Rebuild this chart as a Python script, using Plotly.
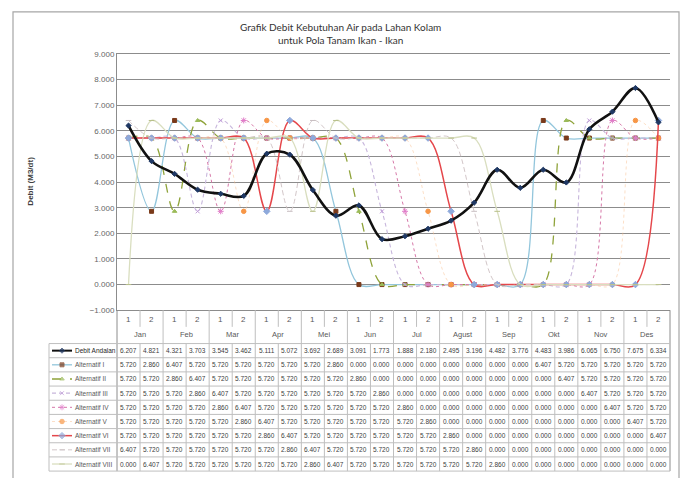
import plotly.graph_objects as go

# ---- data -------------------------------------------------------------
periods = ["1", "2"] * 12
months = ["Jan", "Feb", "Mar", "Apr", "Mei", "Jun", "Jul", "Agust", "Sep", "Okt", "Nov", "Des"]

debit_andalan = [6.207, 4.821, 4.321, 3.703, 3.545, 3.462, 5.111, 5.072, 3.692, 2.689, 3.091, 1.773,
                 1.888, 2.180, 2.495, 3.196, 4.482, 3.776, 4.483, 3.986, 6.065, 6.750, 7.675, 6.334]
alt_1 = [5.720, 2.860, 6.407, 5.720, 5.720, 5.720, 5.720, 5.720, 5.720, 2.860, 0.000, 0.000,
         0.000, 0.000, 0.000, 0.000, 0.000, 0.000, 6.407, 5.720, 5.720, 5.720, 5.720, 5.720]
alt_2 = [5.720, 5.720, 2.860, 6.407, 5.720, 5.720, 5.720, 5.720, 5.720, 5.720, 2.860, 0.000,
         0.000, 0.000, 0.000, 0.000, 0.000, 0.000, 0.000, 6.407, 5.720, 5.720, 5.720, 5.720]
alt_3 = [5.720, 5.720, 5.720, 2.860, 6.407, 5.720, 5.720, 5.720, 5.720, 5.720, 5.720, 2.860,
         0.000, 0.000, 0.000, 0.000, 0.000, 0.000, 0.000, 0.000, 6.407, 5.720, 5.720, 5.720]
alt_4 = [5.720, 5.720, 5.720, 5.720, 2.860, 6.407, 5.720, 5.720, 5.720, 5.720, 5.720, 5.720,
         2.860, 0.000, 0.000, 0.000, 0.000, 0.000, 0.000, 0.000, 0.000, 6.407, 5.720, 5.720]
alt_5 = [5.720, 5.720, 5.720, 5.720, 5.720, 2.860, 6.407, 5.720, 5.720, 5.720, 5.720, 5.720,
         5.720, 2.860, 0.000, 0.000, 0.000, 0.000, 0.000, 0.000, 0.000, 0.000, 6.407, 5.720]
alt_6 = [5.720, 5.720, 5.720, 5.720, 5.720, 5.720, 2.860, 6.407, 5.720, 5.720, 5.720, 5.720,
         5.720, 5.720, 2.860, 0.000, 0.000, 0.000, 0.000, 0.000, 0.000, 0.000, 0.000, 6.407]
alt_7 = [6.407, 5.720, 5.720, 5.720, 5.720, 5.720, 5.720, 2.860, 6.407, 5.720, 5.720, 5.720,
         5.720, 5.720, 5.720, 2.860, 0.000, 0.000, 0.000, 0.000, 0.000, 0.000, 0.000, 0.000]
alt_8 = [0.000, 6.407, 5.720, 5.720, 5.720, 5.720, 5.720, 5.720, 2.860, 6.407, 5.720, 5.720,
         5.720, 5.720, 5.720, 5.720, 2.860, 0.000, 0.000, 0.000, 0.000, 0.000, 0.000, 0.000]

series_names = ["Debit Andalan", "Alternatif I", "Alternatif II", "Alternatif III", "Alternatif IV",
                "Alternatif V", "Alternatif VI", "Alternatif VII", "Alternatif VIII"]
series_values = [debit_andalan, alt_1, alt_2, alt_3, alt_4, alt_5, alt_6, alt_7, alt_8]

# ---- styles -----------------------------------------------------------
styles = [
    dict(lc="#111111", lw=2.6, dash="solid", mc="#1F3864", ms=4, sym="diamond"),
    dict(lc="#93C6DC", lw=1.3, dash="solid", mc="#7A3A1A", ms=4, sym="square"),
    dict(lc="#8FA33A", lw=1.3, dash="dash", mc="#9BBB59", ms=4, sym="triangle-up"),
    dict(lc="#C7B6DC", lw=1.1, dash="4px,3px", mc="#C09BD8", ms=4, sym="x-thin-open"),
    dict(lc="#D678A8", lw=1.0, dash="dot", mc="#E07BC8", ms=5, sym="asterisk-open"),
    dict(lc="rgba(248,190,140,0.55)", lw=0.9, dash="dot", mc="#F79646", ms=4.5, sym="circle"),
    dict(lc="#E5474B", lw=1.5, dash="solid", mc="#8EA9DB", ms=5, sym="diamond"),
    dict(lc="#D2C6C8", lw=1.0, dash="5px,3px", mc="#C8BFC2", ms=4, sym="line-ew-open"),
    dict(lc="#D9DEBF", lw=1.3, dash="solid", mc="#B8C08A", ms=4, sym="line-ew-open"),
]

W, H = 687, 483
X0, X1 = 117, 670          # plot area (px)
Y_TOP, Y_BOT = 51, 312
ROW_TOP, ROW_H = 346, 14.44
N = len(periods)
COLW = (X1 - X0) / N

fig = go.Figure()
idx = list(range(N))

# main series, alternatives first so the reference flow stays on top
order = list(range(1, 9)) + [0]
for k in order:
    s = styles[k]
    fig.add_trace(go.Scatter(
        x=idx, y=series_values[k], name=series_names[k], mode="lines+markers",
        line=dict(color=s["lc"], width=s["lw"], dash=s["dash"], shape="spline", smoothing=1.0),
        marker=dict(color=s["mc"], size=s["ms"], symbol=s["sym"],
                    line=dict(color=s["mc"], width=1)),
        showlegend=False, xaxis="x", yaxis="y"))

# legend keys inside the data table (pixel overlay axes)
for r, s in enumerate(styles):
    yc = ROW_TOP + ROW_H * (r + 0.5)
    fig.add_trace(go.Scatter(
        x=[52, 62, 72], y=[yc, yc, yc], mode="lines+markers",
        line=dict(color=s["lc"], width=min(s["lw"], 2.0), dash=s["dash"]),
        marker=dict(color=s["mc"], size=[0, s["ms"], 0], symbol=s["sym"],
                    line=dict(color=s["mc"], width=1)),
        showlegend=False, xaxis="x2", yaxis="y2", hoverinfo="skip"))

shapes = []
grid_c = "#BFBFBF"
axis_c = "#8C8C8C"

def hline(x0, x1, y, c=grid_c, w=1):
    shapes.append(dict(type="line", xref="x2", yref="y2", x0=x0, x1=x1, y0=y, y1=y,
                       line=dict(color=c, width=w)))

def vline(x, y0, y1, c=grid_c, w=1):
    shapes.append(dict(type="line", xref="x2", yref="y2", x0=x, x1=x, y0=y0, y1=y1,
                       line=dict(color=c, width=w)))

# outer chart frame
shapes.append(dict(type="rect", xref="x2", yref="y2", x0=13, x1=679, y0=8, y1=495,
                   line=dict(color="#A6A6A6", width=1.2), fillcolor="rgba(0,0,0,0)"))

ROW_BOT = ROW_TOP + ROW_H * len(series_names)
# category axis rows
for i in range(N + 1):
    xp = X0 + i * COLW
    if i % 2 == 0:
        vline(xp, Y_BOT, ROW_BOT, c=axis_c if i in (0, N) else grid_c)
    else:
        vline(xp, Y_BOT, Y_BOT + 17)
        vline(xp, ROW_TOP, ROW_BOT)
# data table rows
for r in range(len(series_names) + 1):
    hline(49, X1, ROW_TOP + r * ROW_H)
vline(49, ROW_TOP, ROW_BOT)

base = "Liberation Sans, Arial, sans-serif"
annotations = []
annotations.append(dict(
    text="Grafik Debit Kebutuhan Air pada Lahan Kolam<br>untuk Pola Tanam Ikan - Ikan",
    xref="x2", yref="y2", x=340, y=30, showarrow=False,
    font=dict(family="Lato, Open Sans, sans-serif", size=10, color="#333333")))
annotations.append(dict(
    text="<b>Debit (M3/dt)</b>", xref="x2", yref="y2", x=31, y=181, textangle=-90, showarrow=False,
    font=dict(family=base, size=8, color="#404040")))

lab_font = dict(family=base, size=8, color="#595959")
for i, p in enumerate(periods):
    annotations.append(dict(text=p, xref="x", yref="y2", x=i, y=321,
                            showarrow=False, font=lab_font))
for m, name in enumerate(months):
    annotations.append(dict(text=name, xref="x", yref="y2", x=2 * m + 0.5, y=337,
                            showarrow=False, font=dict(family=base, size=7.5, color="#595959")))

cell_font = dict(family=base, size=6.5, color="#404040")
for r, (name, vals) in enumerate(zip(series_names, series_values)):
    yc = ROW_TOP + ROW_H * (r + 0.5)
    annotations.append(dict(text=name, xref="x2", yref="y2", x=73, y=yc, xanchor="left",
                            showarrow=False,
                            font=dict(family=base, size=6.5,
                                      color="#262626" if r == 0 else "#595959")))
    for i, v in enumerate(vals):
        annotations.append(dict(text=f"{v:.3f}", xref="x", yref="y2", x=i, y=yc,
                                showarrow=False, font=cell_font))

fig.update_layout(
    width=W, height=H,
    margin=dict(l=0, r=0, t=0, b=0),
    paper_bgcolor="white", plot_bgcolor="rgba(0,0,0,0)",
    xaxis=dict(domain=[X0 / W, X1 / W], range=[-0.5, N - 0.5], showgrid=False,
               showticklabels=False, zeroline=False, showline=True, mirror=True,
               linecolor=axis_c, ticks="", anchor="y", fixedrange=True),
    yaxis=dict(domain=[1 - Y_BOT / H, 1 - Y_TOP / H], range=[-1, 9], dtick=1,
               tickformat=".3f", showgrid=True, gridcolor=axis_c, gridwidth=1,
               zeroline=False, showline=True, linecolor=axis_c, ticks="",
               tickfont=dict(family=base, size=8, color="#666666"),
               anchor="x", fixedrange=True),
    xaxis2=dict(domain=[0, 1], range=[0, W], visible=False, anchor="y2", fixedrange=True),
    yaxis2=dict(domain=[0, 1], range=[H, 0], visible=False, anchor="x2", fixedrange=True),
    shapes=shapes,
    annotations=annotations,
    showlegend=False,
)

fig.write_html("out.html")
